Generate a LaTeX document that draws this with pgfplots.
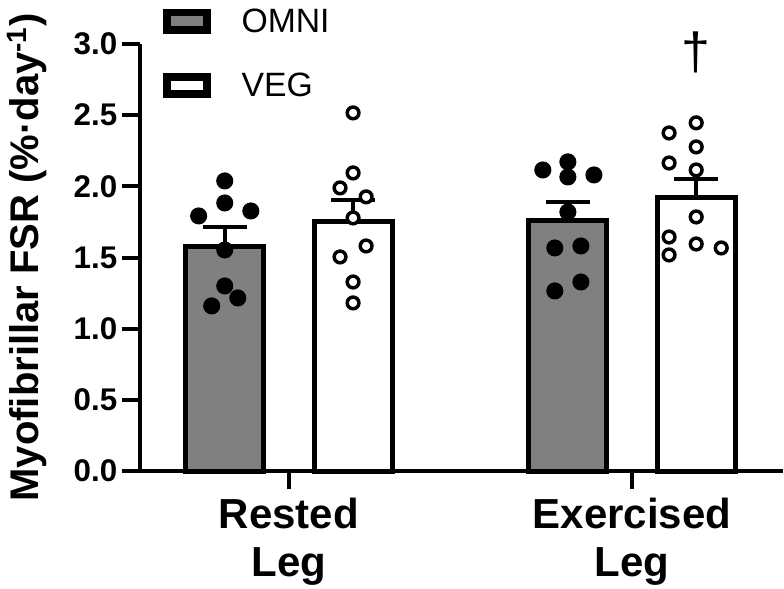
\documentclass[border=0pt]{standalone}
\usepackage{fontspec}
\setmainfont{Liberation Sans}
\usepackage{pgfplots}
\pgfplotsset{compat=1.18}
\definecolor{omni}{RGB}{128,128,128}

\begin{document}
\begin{tikzpicture}
\begin{axis}[name=ax, scale only axis, width=482.25pt, height=320.25pt,
  xmin=0.566, xmax=2.44, ymin=0, ymax=3, clip=false,
  axis x line*=bottom, axis y line*=left, axis line style={line width=3pt},
  xtick={1,2}, xticklabels={{Rested\\Leg},{Exercised\\Leg}},
  ytick={0,0.5,...,3}, tick align=outside, major tick length=13.5pt,
  tick style={line width=3pt, black},
  yticklabel style={/pgf/number format/.cd, fixed, fixed zerofill, precision=1, assume math mode=true},
  ticklabel style={font=\fontsize{23.5}{28}\selectfont\bfseries},
  xticklabel style={align=center, font=\fontsize{31.5}{36.5}\selectfont\bfseries, yshift=-3pt},
  ylabel={Myofibrillar FSR (\%·day\textsuperscript{-1})},
  ylabel style={font=\fontsize{30}{34}\selectfont\bfseries, at={(axis description cs:-0.176,0.5)}, anchor=center},
  legend style={at={(axis description cs:0.036,1.09)}, anchor=north west, draw=none, fill=none,
    font=\fontsize{25.3}{30}\selectfont, row sep=25pt, inner sep=0pt,
    /tikz/every odd column/.append style={column sep=21pt}},
  legend cell align=left]

\addplot[ybar, bar width=0.227, bar shift=0pt, fill=omni, draw=black, line width=3.75pt,
  legend image code/.code={\draw[line width=5.6pt, fill=omni, draw=black] (0pt,-6.5pt) rectangle (30pt,6.5pt);},
  error bars/.cd, y dir=plus, y explicit, error bar style={line width=3pt},
  error mark options={rotate=90, line width=3pt, mark size=16.5pt}]
  coordinates {(0.813,1.577) +- (0,0.140) (1.813,1.757) +- (0,0.136)};
\addlegendentry{OMNI}
\addplot[ybar, bar width=0.227, bar shift=0pt, fill=white, draw=black, line width=3.75pt,
  legend image code/.code={\draw[line width=5.6pt, fill=white, draw=black] (0pt,-6.5pt) rectangle (30pt,6.5pt);},
  error bars/.cd, y dir=plus, y explicit, error bar style={line width=3pt},
  error mark options={rotate=90, line width=3pt, mark size=16.5pt}]
  coordinates {(1.187,1.750) +- (0,0.154) (2.187,1.922) +- (0,0.130)};
\addlegendentry{VEG}

% individual values
\addplot[forget plot, only marks, mark=*, mark size=6pt, mark options={fill=black, draw=black, line width=0.8pt}]
  coordinates {(0.813,2.038) (0.813,1.883) (0.737,1.792) (0.889,1.827) (0.813,1.553)
    (0.813,1.300) (0.851,1.216) (0.775,1.160)
    (1.740,2.115) (1.813,2.172) (1.813,2.066) (1.889,2.080) (1.813,1.820)
    (1.775,1.567) (1.851,1.581) (1.775,1.265) (1.851,1.328)};
\addplot[forget plot, only marks, mark=*, mark size=4.4pt, mark options={fill=white, draw=black, line width=2.6pt}]
  coordinates {(1.187,2.516) (1.187,2.094) (1.149,1.989) (1.225,1.926) (1.187,1.778)
    (1.225,1.581) (1.149,1.504) (1.187,1.328) (1.187,1.181)
    (2.187,2.446) (2.108,2.375) (2.187,2.277) (2.108,2.164) (2.187,2.115)
    (2.187,1.785) (2.108,1.644) (2.187,1.595) (2.260,1.567) (2.108,1.518)};

\node[font=\fontsize{39}{42}\selectfont] at (axis cs:2.187,2.944) {†};
\end{axis}
\pgfresetboundingbox
\useasboundingbox ([shift={(-105pt,-87.75pt)}]ax.south west) rectangle ([shift={(483pt,353.25pt)}]ax.south west);
\end{tikzpicture}
\end{document}
